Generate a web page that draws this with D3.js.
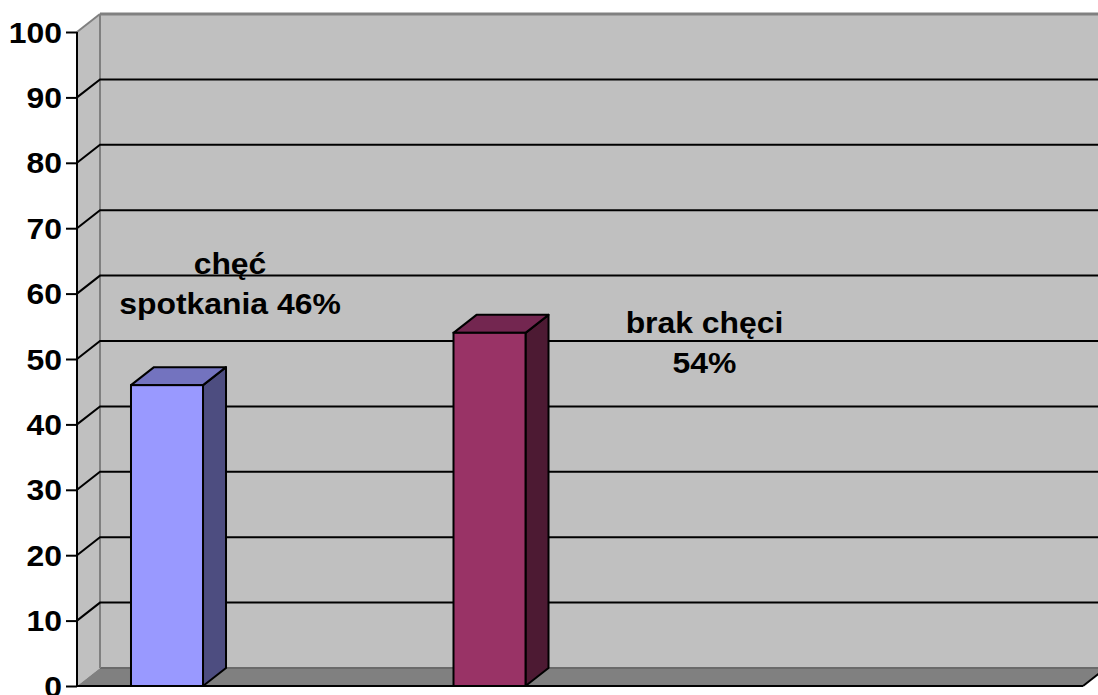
<!DOCTYPE html>
<html>
<head>
<meta charset="utf-8">
<script src="https://cdn.jsdelivr.net/npm/d3@7"></script>
<style>
  html, body { margin: 0; padding: 0; background: #fff; }
  svg { display: block; }
  text { font-family: "Liberation Sans", Arial, sans-serif; font-weight: bold; fill: #000; }
</style>
</head>
<body>
<svg id="chart" width="1098" height="695"></svg>
<script>
// ---- data ----
const categories = ["chęć spotkania", "brak chęci"];
const values = [46, 54];
const labelLines = [["chęć", "spotkania 46%"], ["brak chęci", "54%"]];
const yTicks = [0, 10, 20, 30, 40, 50, 60, 70, 80, 90, 100];
const frontColors = ["#9999FF", "#993366"];
const topColors = ["#7373BF", "#732650"];
const sideColors = ["#4D4D80", "#4D1A33"];

// ---- layout ----
const W = 1098, H = 695;
const x0 = 77, x1 = 1083;     // front plot extent
const depthX = 23, depthY = 18;
const FONT = 29, SX = 1.1;

const svg = d3.select("#chart");

const y = d3.scaleLinear().domain([0, 100]).range([686, 32]);
const x = d3.scaleBand().domain(categories).range([x0, x1])
  .paddingInner(0.7767).paddingOuter(0.948).align(0.0883);

// left wall
svg.append("polygon")
  .attr("points", [[x0, y(100)], [x0 + depthX, y(100) - depthY], [x0 + depthX, y(0) - depthY], [x0, y(0)]].join(" "))
  .attr("fill", "#C0C0C0");
// back wall
svg.append("rect")
  .attr("x", x0 + depthX).attr("y", y(100) - depthY)
  .attr("width", x1 + depthX - x0 - depthX + 30).attr("height", y(0) - y(100))
  .attr("fill", "#C0C0C0");
// floor
svg.append("polygon")
  .attr("points", [[x0, y(0)], [x0 + depthX, y(0) - depthY], [x1 + depthX, y(0) - depthY], [x1, y(0)]].join(" "))
  .attr("fill", "#808080");
svg.append("line")
  .attr("x1", x0 + depthX).attr("x2", x1 + depthX)
  .attr("y1", y(0) - depthY).attr("y2", y(0) - depthY)
  .attr("stroke", "#6a6a6a").attr("stroke-width", 2);
svg.append("line")
  .attr("x1", x0).attr("x2", x1)
  .attr("y1", y(0)).attr("y2", y(0))
  .attr("stroke", "#000").attr("stroke-width", 2);
svg.append("line")
  .attr("x1", x1).attr("x2", x1 + depthX)
  .attr("y1", y(0)).attr("y2", y(0) - depthY)
  .attr("stroke", "#000").attr("stroke-width", 2);

// wall edges (gray)
svg.append("line")
  .attr("x1", x0 + depthX).attr("x2", x0 + depthX)
  .attr("y1", y(100) - depthY).attr("y2", y(0) - depthY)
  .attr("stroke", "#808080").attr("stroke-width", 2);
svg.append("line")
  .attr("x1", x0 + depthX).attr("x2", W + 10)
  .attr("y1", y(100) - depthY).attr("y2", y(100) - depthY)
  .attr("stroke", "#808080").attr("stroke-width", 3);
svg.append("line")
  .attr("x1", x0).attr("x2", x0 + depthX)
  .attr("y1", y(100)).attr("y2", y(100) - depthY)
  .attr("stroke", "#808080").attr("stroke-width", 2);

// gridlines
const grid = yTicks.filter(t => t > 0 && t < 100);
svg.append("g").selectAll("path").data(grid).join("path")
  .attr("d", t => `M${x0},${y(t)}L${x0 + depthX},${y(t) - depthY}L${W + 10},${y(t) - depthY}`)
  .attr("fill", "none").attr("stroke", "#000").attr("stroke-width", 2);

// axis line
svg.append("line")
  .attr("x1", x0).attr("x2", x0).attr("y1", y(100)).attr("y2", y(0))
  .attr("stroke", "#000").attr("stroke-width", 2);

// axis ticks and labels via d3 axis
const axis = d3.axisLeft(y).tickValues(yTicks).tickSize(11).tickPadding(4).tickFormat(d3.format("d"));
const ag = svg.append("g").attr("transform", `translate(${x0},0)`).call(axis);
ag.select(".domain").remove();
ag.selectAll(".tick line").attr("stroke", "#000").attr("stroke-width", 2);
ag.selectAll(".tick text")
  .attr("font-family", null).attr("font-size", null)
  .style("font-size", FONT + "px")
  .attr("x", null).attr("dy", null)
  .attr("text-anchor", "end")
  .attr("transform", `translate(-15,10) scale(${SX},1)`);

// bars
const bw = x.bandwidth();
const bars = svg.append("g").selectAll("g").data(values).join("g");
bars.append("polygon") // side
  .attr("points", (d, i) => {
    const xl = x(categories[i]) + bw;
    return [[xl, y(d)], [xl + depthX, y(d) - depthY], [xl + depthX, y(0) - depthY], [xl, y(0)]].join(" ");
  })
  .attr("fill", (d, i) => sideColors[i]).attr("stroke", "#000").attr("stroke-width", 2).attr("stroke-linejoin", "round");
bars.append("polygon") // top
  .attr("points", (d, i) => {
    const xl = x(categories[i]);
    return [[xl, y(d)], [xl + depthX, y(d) - depthY], [xl + bw + depthX, y(d) - depthY], [xl + bw, y(d)]].join(" ");
  })
  .attr("fill", (d, i) => topColors[i]).attr("stroke", "#000").attr("stroke-width", 2).attr("stroke-linejoin", "round");
bars.append("rect") // front
  .attr("x", (d, i) => x(categories[i]))
  .attr("y", d => y(d))
  .attr("width", bw)
  .attr("height", d => y(0) - y(d))
  .attr("fill", (d, i) => frontColors[i]).attr("stroke", "#000").attr("stroke-width", 2);

// data labels (manually placed in the original): offset from bar, level in value units
const labelLayout = [{ dx: 99, level: 63 }, { dx: 251, level: 54 }];
const lineGap = 40;
labelLines.forEach((lines, i) => {
  const cx = x(categories[i]) + labelLayout[i].dx;
  const by = y(labelLayout[i].level);
  lines.forEach((ln, j) => {
    svg.append("text")
      .attr("text-anchor", "middle")
      .style("font-size", FONT + "px")
      .attr("transform", `translate(${cx},${by + j * lineGap}) scale(${SX},1)`)
      .text(ln);
  });
});
</script>
</body>
</html>
